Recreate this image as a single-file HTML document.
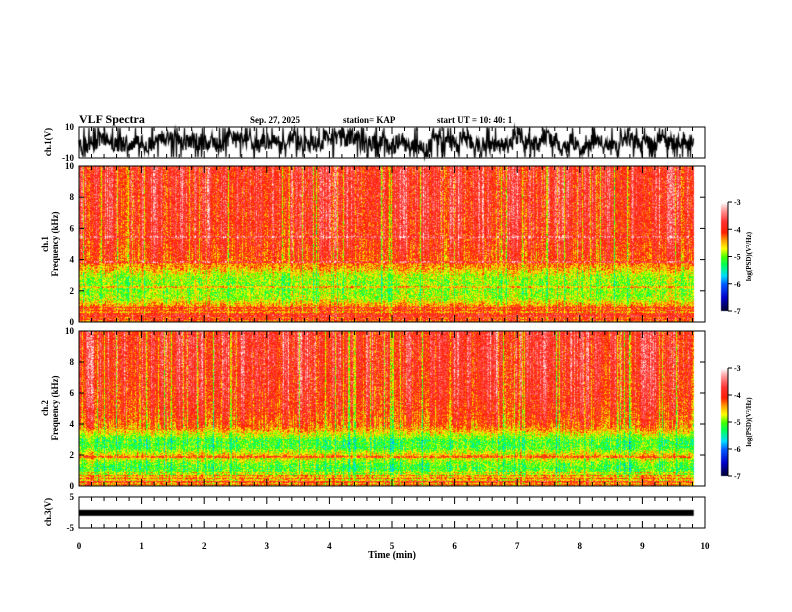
<!DOCTYPE html>
<html><head><meta charset="utf-8"><style>
body{margin:0;background:#fff;width:792px;height:612px;overflow:hidden;font-family:"Liberation Serif",serif;font-weight:bold}
#wrap{position:relative;width:792px;height:612px}
canvas,svg{position:absolute;left:0;top:0}
</style></head><body><div id="wrap">
<canvas id="c" width="792" height="612"></canvas>
<svg id="s" width="792" height="612" font-family="Liberation Serif, serif" font-weight="bold" font-size="10">
<text x="79" y="123" font-size="12">VLF Spectra</text>
<text x="250" y="123" font-size="9">Sep. 27, 2025</text>
<text x="343" y="123" font-size="9">station= KAP</text>
<text x="437" y="123" font-size="9">start  UT =   10: 40: 1</text>
<text x="392" y="558" text-anchor="middle" font-size="10">Time  (min)</text>
</svg></div>
<script>
const timeTicks=[0,1,2,3,4,5,6,7,8,9,10];
const freqTicks=[0,2,4,6,8,10];
// mean log PSD per frequency (kHz)
const spec1Freq=[0,0.3,0.6,0.9,1.2,1.5,2.0,2.5,3.0,3.4,3.7,4.0,5.0,6.0,8.0,10];
const spec1Psd=[-4.3,-4.1,-4.4,-4.2,-4.5,-4.8,-4.9,-4.9,-4.8,-4.5,-4.3,-4.1,-3.95,-3.85,-3.8,-3.8];
const spec1Lines=[[3.9,0.5],[2.3,0.4],[5.5,0.35],[0.5,0.4]];
const spec2Freq=[0,0.3,0.6,0.9,1.2,1.5,2.0,2.5,3.0,3.4,3.7,4.0,5.0,6.0,8.0,10];
const spec2Psd=[-4.4,-4.6,-4.5,-5.0,-5.1,-5.0,-4.5,-5.1,-5.1,-4.7,-4.4,-4.2,-4.0,-3.9,-3.8,-3.8];
const spec2Lines=[[1.9,0.4],[0.3,0.4]];
const cbTicks=[-3,-4,-5,-6,-7];
const ch3Level=1.5, tMax=9.82;

const X0=79,X1=705;
const xs=t=>X0+(X1-X0)*t/10;
const panels={w1:[127,158],s1:[166,322],s2:[331,486],w3:[497,528]};
const ctx=document.getElementById('c').getContext('2d');
function h(a,b){let n=(a*374761393+b*668265263)|0;n=(n^(n>>>13))*1274126177|0;n=n^(n>>>16);return ((n>>>0)%100000)/100000;}
const stops=[[-7,[0,0,40]],[-6.5,[0,0,200]],[-6,[0,90,255]],[-5.7,[0,220,255]],[-5.3,[0,255,90]],[-5,[70,255,0]],[-4.7,[255,255,0]],[-4.4,[255,160,0]],[-4.1,[255,30,0]],[-3.7,[255,50,50]],[-3.3,[255,150,150]],[-3,[255,255,255]]];
function cmap(v){if(v<=-7)return stops[0][1];if(v>=-3)return stops[stops.length-1][1];
for(let i=1;i<stops.length;i++){if(v<=stops[i][0]){const a=stops[i-1],b=stops[i],f=(v-a[0])/(b[0]-a[0]);return a[1].map((c,k)=>c+(b[1][k]-c)*f);}}}
function interp(fx,fy,f){for(let i=1;i<fx.length;i++)if(f<=fx[i]){const r=(f-fx[i-1])/(fx[i]-fx[i-1]);return fy[i-1]+(fy[i]-fy[i-1])*r;}return fy[fy.length-1];}
function spec(p,fx,fy,lines,seed){const [y0,y1]=panels[p];const xe=Math.round(xs(tMax));const W=xe-X0,H=y1-y0;
const img=ctx.createImageData(W,H);
for(let x=0;x<W;x++){let col=(h(x,seed)-0.45)*0.7+(h(Math.floor(x/7),seed+5)-0.5)*0.4;
if(h(x,seed+77)>0.9)col-=0.7;
for(let y=0;y<H;y++){const f=10*(1-y/H);let v=interp(fx,fy,f);
const up=f>3.8?1:0.5;v+=col*up+(h(x*7+y,seed+y)-0.5)*0.8;
if(f<1&&(y%3==0))v+=0.4;
lines.forEach(([lf,a])=>{if(Math.abs(f-lf)<0.07)v+=a;});
const c=cmap(v),i=(y*W+x)*4;img.data[i]=c[0];img.data[i+1]=c[1];img.data[i+2]=c[2];img.data[i+3]=255;}}
ctx.putImageData(img,X0,y0);}
spec('s1',spec1Freq,spec1Psd,spec1Lines,11);spec('s2',spec2Freq,spec2Psd,spec2Lines,23);
// ch1 waveform
ctx.strokeStyle='#000';ctx.lineWidth=1.2;ctx.beginPath();
for(let x=X0;x<=xs(tMax);x+=0.5){const v=(h(x*2,3)-0.5)*12+(h(Math.floor(x/9),4)-0.5)*8;let y=142-v*1.4;
if(h(Math.round(x*2),9)>0.88)y=h(Math.round(x*2),1)>0.5?128:157;
const yy=Math.max(128,Math.min(157,y));x==X0?ctx.moveTo(x,yy):ctx.lineTo(x,yy);}
ctx.stroke();
// ch3 band
const yC3=v=>512.5-v*3.1;ctx.fillStyle='#000';ctx.fillRect(X0,yC3(ch3Level)+2,xs(tMax)-X0,6);
// colorbars
function cbar(y0,y1){for(let y=y0;y<y1;y++){const v=-3-4*(y-y0)/(y1-y0);const c=cmap(v);ctx.fillStyle=`rgb(${c.map(Math.round)})`;ctx.fillRect(721,y,7,1);}}
cbar(202,311);cbar(368,476);
const svg=document.getElementById('s');const NS='http://www.w3.org/2000/svg';
function el(t,a,txt){const e=document.createElementNS(NS,t);for(const k in a)e.setAttribute(k,a[k]);if(txt!=null)e.textContent=txt;svg.appendChild(e);return e;}
function frame(name,y0,y1){const r=el('rect',{x:X0,y:y0,width:X1-X0,height:y1-y0,fill:'none',stroke:'#000','stroke-width':1});

for(let t=0;t<=10.001;t+=0.2){const x=xs(t),L=Math.abs(t-Math.round(t))<0.01?7:4;
el('line',{x1:x,x2:x,y1:y0,y2:y0+L,stroke:'#000'});el('line',{x1:x,x2:x,y1:y1,y2:y1-L,stroke:'#000'});}}
frame('ch1-panel',127,158);frame('ch1-spectrogram',166,322);frame('ch2-spectrogram',331,486);frame('ch3-panel',497,528);
function ylab(y,t,name){const e=el('text',{x:74,y:y+3,'text-anchor':'end','font-size':9},t);}
ylab(127,'10','ch1-ytick-10');ylab(158,'-10','ch1-ytick-neg10');ylab(497,'5','ch3-ytick-5');ylab(528,'-5','ch3-ytick-neg5');
[['s1',166,322],['s2',331,486]].forEach(([p,y0,y1])=>{freqTicks.forEach(f=>{const y=y1-(y1-y0)*f/10;
const e=el('text',{x:74,y:y+3,'text-anchor':'end','font-size':9},String(f));
el('line',{x1:X0,x2:X0+5,y1:y,y2:y,stroke:'#000'});el('line',{x1:X1,x2:X1-5,y1:y,y2:y,stroke:'#000'});});});
timeTicks.forEach(t=>{const e=el('text',{x:xs(t),y:549,'text-anchor':'middle','font-size':9},String(t));});
function vlab(x,y,t,name,fs){const e=el('text',{x:x,y:y,'text-anchor':'middle','font-size':fs||9,transform:`rotate(-90 ${x} ${y})`},t);}
vlab(51,142,'ch.1(V)','ch1-y-title');vlab(48,244,'ch.1','ch1-spec-label');vlab(58,244,'Frequency  (kHz)','ch1-freq-title');
vlab(48,408,'ch.2','ch2-spec-label');vlab(58,408,'Frequency  (kHz)','ch2-freq-title');vlab(51,512,'ch.3(V)','ch3-y-title');
[[202,311,'cb1'],[368,476,'cb2']].forEach(([y0,y1,n])=>{el('line',{x1:728,x2:728,y1:y0,y2:y1,stroke:'#000'});
cbTicks.forEach(v=>{const y=y0+(y1-y0)*(-3-v)/4;el('line',{x1:728,x2:732,y1:y,y2:y,stroke:'#000'});
const e=el('text',{x:734,y:y+3,'font-size':8},String(v));});
vlab(751,(y0+y1)/2,'log(PSD)(V²/Hz)',n+'-title',7);});
</script></body></html>
